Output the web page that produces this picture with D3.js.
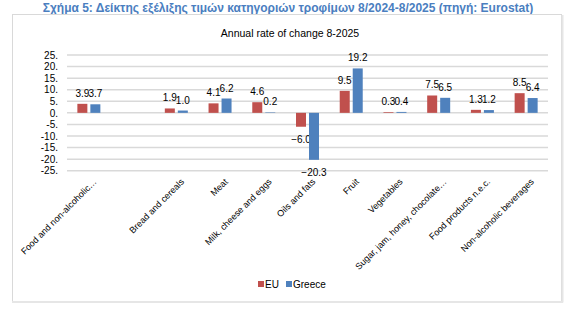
<!DOCTYPE html>
<html>
<head>
<meta charset="utf-8">
<script src="https://cdn.jsdelivr.net/npm/d3@7"></script>
<style>
  html, body { margin: 0; padding: 0; background: #fff; }
  svg { display: block; font-family: "Liberation Sans", Arial, sans-serif; }
</style>
</head>
<body>
<svg id="chart" width="577" height="324"></svg>
<script>
const categories = ["Food and non-alcoholic\u2026", "", "Bread and cereals", "Meat", "Milk, cheese and eggs", "Oils and fats", "Fruit", "Vegetables", "Sugar, jam, honey, chocolate\u2026", "Food products n.e.c.", "Non-alcoholic beverages"];
const euValues = [3.9, null, 1.9, 4.1, 4.6, -6.0, 9.5, 0.3, 7.5, 1.3, 8.5];
const greeceValues = [3.7, null, 1.0, 6.2, 0.2, -20.3, 19.2, 0.4, 6.5, 1.2, 6.4];
const seriesNames = ["EU", "Greece"];
const seriesColors = ["#c0504d", "#4f81bd"];
const yTicks = [-25, -20, -15, -10, -5, 0, 5, 10, 15, 20, 25];

const svg = d3.select("#chart");

// Figure title
svg.append("text")
  .attr("x", 288).attr("y", 11.5)
  .attr("text-anchor", "middle")
  .attr("font-size", 12).attr("font-weight", "bold")
  .attr("fill", "#4a7ec0")
  .text("Σχήμα 5: Δείκτης εξέλιξης τιμών κατηγοριών τροφίμων 8/2024-8/2025 (πηγή: Eurostat)");

// Chart box
svg.append("rect")
  .attr("x", 12.5).attr("y", 14.5).attr("width", 549).attr("height", 287)
  .attr("fill", "#fff").attr("stroke", "#d9d9d9").attr("stroke-width", 1);
svg.append("line").attr("x1", 562.5).attr("x2", 562.5).attr("y1", 15).attr("y2", 302.5)
  .attr("stroke", "#e6e6e6").attr("stroke-width", 2);
svg.append("line").attr("x1", 12).attr("x2", 563).attr("y1", 302).attr("y2", 302)
  .attr("stroke", "#e6e6e6").attr("stroke-width", 2);

// Chart title
svg.append("text")
  .attr("x", 290).attr("y", 37)
  .attr("text-anchor", "middle")
  .attr("font-size", 10.5).attr("fill", "#000")
  .text("Annual rate of change 8-2025");

const x = d3.scaleBand().domain(d3.range(categories.length)).range([67, 548]).padding(0);
const y = d3.scaleLinear().domain([-25, 25]).range([170.7, 55]);

// gridlines
svg.append("g").selectAll("line").data(yTicks).join("line")
  .attr("x1", 67).attr("x2", 548)
  .attr("y1", d => y(d)).attr("y2", d => y(d))
  .attr("stroke", "#d9d9d9").attr("stroke-width", 1.5);

// y axis labels
const yAxis = d3.axisLeft(y).tickValues(yTicks).tickSize(0).tickPadding(0).tickFormat(d => d + ".");
const yg = svg.append("g").attr("transform", "translate(58,0)").call(yAxis);
yg.select(".domain").remove();
yg.selectAll("text").attr("font-size", 10).attr("fill", "#000").attr("font-family", "Liberation Sans, Arial, sans-serif");

const barW = 10, gap = 3;
const series = [euValues, greeceValues];
series.forEach((vals, si) => {
  const off = si === 0 ? -(barW + gap / 2) : gap / 2;
  const data = vals.map((v, i) => ({ v, i })).filter(d => d.v !== null);
  svg.append("g").selectAll("rect").data(data).join("rect")
    .attr("x", d => x(d.i) + x.bandwidth() / 2 + off)
    .attr("width", barW)
    .attr("y", d => y(Math.max(0, d.v)))
    .attr("height", d => Math.abs(y(d.v) - y(0)))
    .attr("fill", seriesColors[si]);
  svg.append("g").selectAll("text").data(data).join("text")
    .attr("x", d => x(d.i) + x.bandwidth() / 2 + off + barW / 2)
    .attr("y", d => d.v >= 0 ? y(d.v) - 7 : y(d.v) + 16)
    .attr("text-anchor", "middle")
    .attr("font-size", 10).attr("fill", "#000")
    .text(d => d3.format(".1f")(d.v));
});

// x labels
const xAxis = d3.axisBottom(x).tickSize(0).tickFormat(i => categories[i]);
const xg = svg.append("g").attr("transform", "translate(0,172)").call(xAxis);
xg.select(".domain").remove();
xg.selectAll("text")
  .attr("font-size", 9).attr("fill", "#000").attr("font-family", "Liberation Sans, Arial, sans-serif")
  .attr("text-anchor", "end")
  .attr("dy", "0.35em")
  .attr("transform", "translate(4,6) rotate(-45)");

// legend
const lg = svg.append("g").attr("transform", "translate(258,284)");
const items = [{ n: seriesNames[0], c: seriesColors[0], x: 0 }, { n: seriesNames[1], c: seriesColors[1], x: 28 }];
items.forEach(it => {
  lg.append("rect").attr("x", it.x).attr("y", -3).attr("width", 6).attr("height", 6).attr("fill", it.c);
  lg.append("text").attr("x", it.x + 7).attr("y", 3.5).attr("font-size", 10).attr("fill", "#000").text(it.n);
});
</script>
</body>
</html>
